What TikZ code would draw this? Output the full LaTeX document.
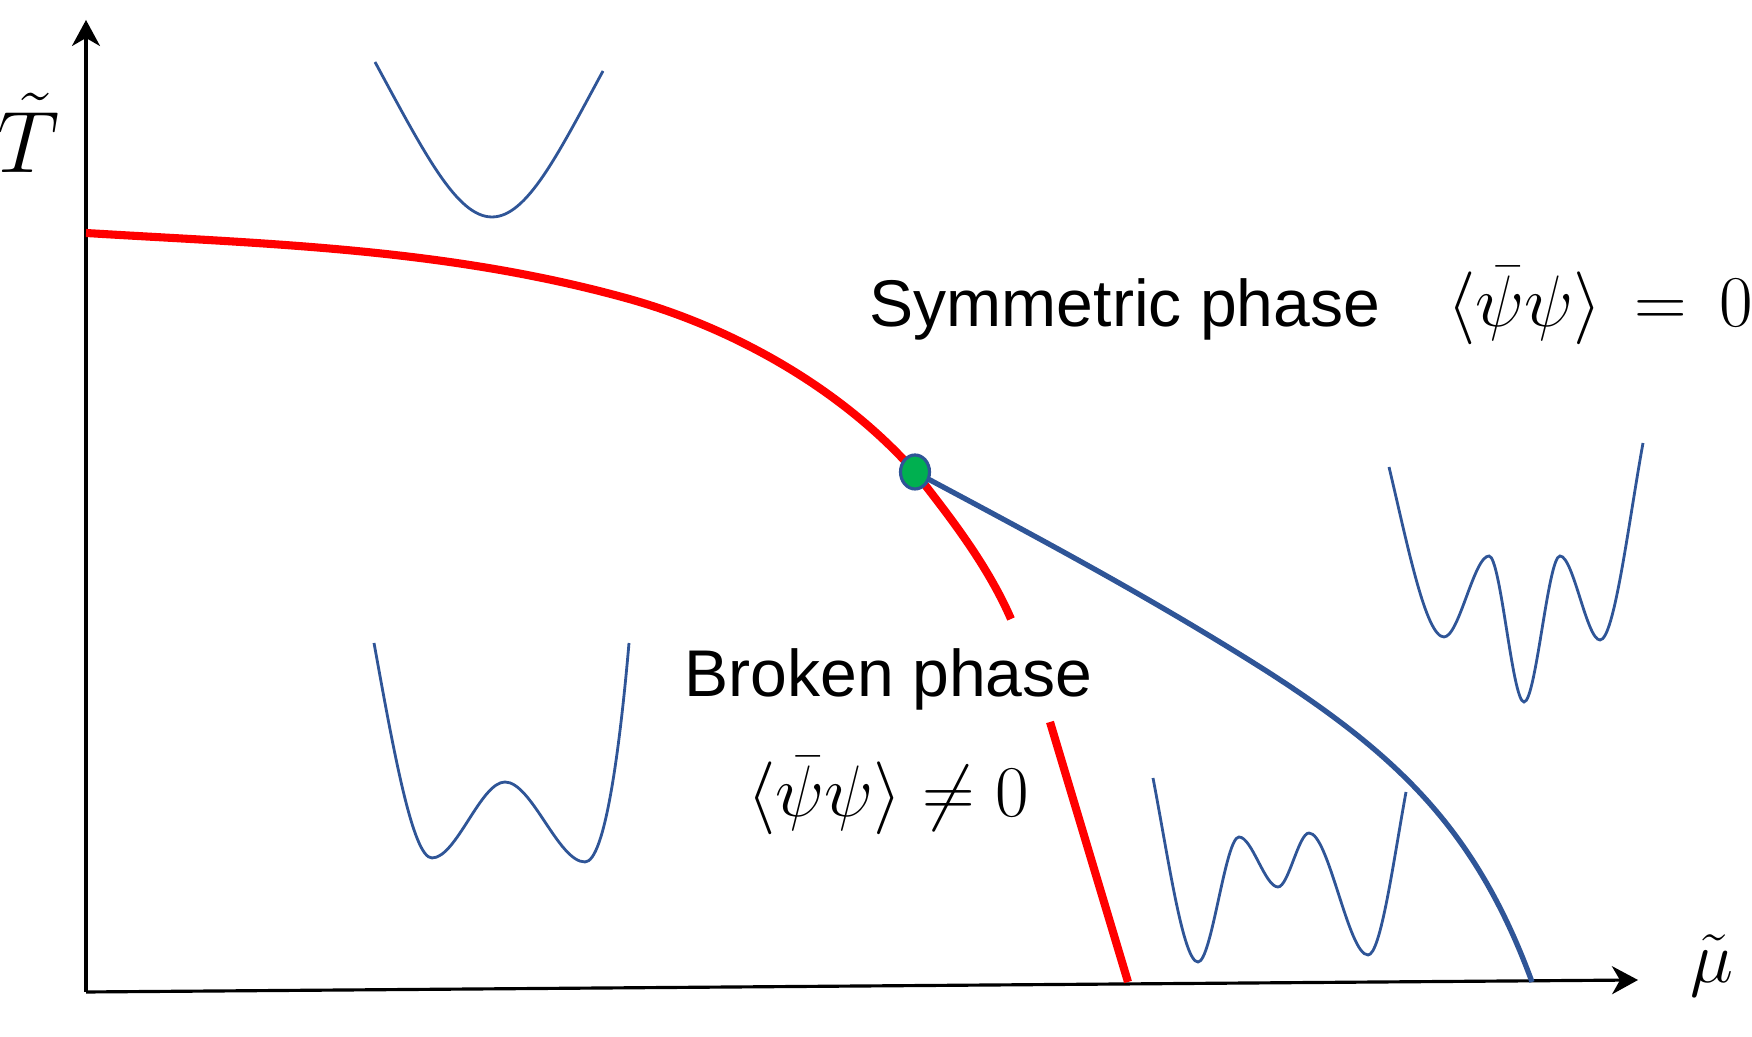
\documentclass[tikz,border=0pt]{standalone}
\usepackage{amsmath,amssymb}
\usepackage{fontspec}
\usepackage{xcolor}
\usepackage{tikz}
\usetikzlibrary{positioning,arrows.meta,shapes.geometric}
\newfontfamily\arialfont{Liberation Sans}
\definecolor{potblue}{RGB}{47,85,151}
\definecolor{cpgreen}{RGB}{0,176,80}

\begin{document}
\begin{tikzpicture}[
    axis/.style={->, >={Stealth[length=2.6mm, width=2.8mm, inset=0.8mm]}, line width=0.9pt},
    firstorder/.style={red, line width=2.3pt},
    crossover/.style={potblue, line width=1.5pt},
    pot/.style={potblue, line width=0.8pt},
    cepdot/.style={ellipse, draw=potblue, fill=cpgreen, line width=0.9pt,
                minimum width=0.29cm, minimum height=0.34cm, inner sep=0pt},
    phase/.style={font=\arialfont\fontsize{18.8}{22}\selectfont, inner sep=0pt},
    order/.style={font=\fontsize{21}{25}\selectfont, inner sep=0pt},
    axlabel/.style={inner sep=0pt}
]
\useasboundingbox (0,0) rectangle (17.52,10.37);

\coordinate (O) at (0.86,0.45);
\coordinate (ttop) at (0.86,10.17);
\coordinate (muend) at (16.38,0.57);
\coordinate (cp) at (9.15,5.65);

\draw[axis] (O) -- (ttop);
\draw[axis] (O) -- (muend);
\node[axlabel, font=\fontsize{25.5}{30}\selectfont, anchor=base west] (tlabel) at (-0.03,8.64) {$\tilde{T}$};
\node[axlabel, font=\fontsize{21}{25}\selectfont, anchor=base west] (mulabel) at (16.90,0.54) {$\tilde{\mu}$};

\draw[firstorder] (0.86,8.04) .. controls (2.66,7.93) and (4.42,7.89) .. (6.22,7.40)
    .. controls (7.30,7.11) and (8.40,6.50) .. (cp)
    .. controls (9.45,5.26) and (9.86,4.755) .. (10.11,4.18)
    (10.50,3.15) -- (11.28,0.55);
\draw[crossover] (cp) .. controls (10.33,5.02) and (11.50,4.40) .. (12.68,3.65)
    .. controls (14.00,2.80) and (14.77,2.05) .. (15.32,0.55);
\node[cepdot] (cep) at (cp) {};

\node[phase, anchor=base west] (sym) at (8.69,7.10) {Symmetric phase};
\node[order, base right=0.66cm of sym] (symorder) {$\langle\bar{\psi}\psi\rangle \,=\, 0$};
\node[phase, anchor=base west] (brk) at (6.84,3.40) {Broken phase};
\node[order, anchor=base] (brkorder) at (8.88,2.20) {$\langle\bar{\psi}\psi\rangle \neq 0$};

\draw[pot] (3.75,9.75) .. controls (4.25,8.825) and (4.57,8.20) .. (4.92,8.20)
    .. controls (5.27,8.20) and (5.58,8.83) .. (6.03,9.66);
\draw[pot] (3.74,3.94) .. controls (3.933,2.877) and (4.127,1.79) .. (4.32,1.79)
    .. controls (4.563,1.79) and (4.807,2.55) .. (5.05,2.55)
    .. controls (5.317,2.55) and (5.583,1.75) .. (5.85,1.75)
    .. controls (6.05,1.75) and (6.20,2.90) .. (6.29,3.94);
\draw[pot] (13.89,5.70) .. controls (14.073,4.93) and (14.257,4.00) .. (14.44,4.00)
    .. controls (14.59,4.00) and (14.74,4.81) .. (14.89,4.81)
    .. controls (15.007,4.81) and (15.123,3.35) .. (15.24,3.35)
    .. controls (15.36,3.35) and (15.48,4.81) .. (15.60,4.81)
    .. controls (15.733,4.81) and (15.867,3.97) .. (16.00,3.97)
    .. controls (16.143,3.97) and (16.287,5.154) .. (16.43,5.94);
\draw[pot] (11.53,2.59) .. controls (11.68,1.81) and (11.83,0.75) .. (11.98,0.75)
    .. controls (12.117,0.75) and (12.253,2.00) .. (12.39,2.00)
    .. controls (12.52,2.00) and (12.65,1.50) .. (12.78,1.50)
    .. controls (12.883,1.50) and (12.987,2.04) .. (13.09,2.04)
    .. controls (13.287,2.04) and (13.483,0.82) .. (13.68,0.82)
    .. controls (13.807,0.82) and (13.933,1.753) .. (14.06,2.45);
\end{tikzpicture}
\end{document}
